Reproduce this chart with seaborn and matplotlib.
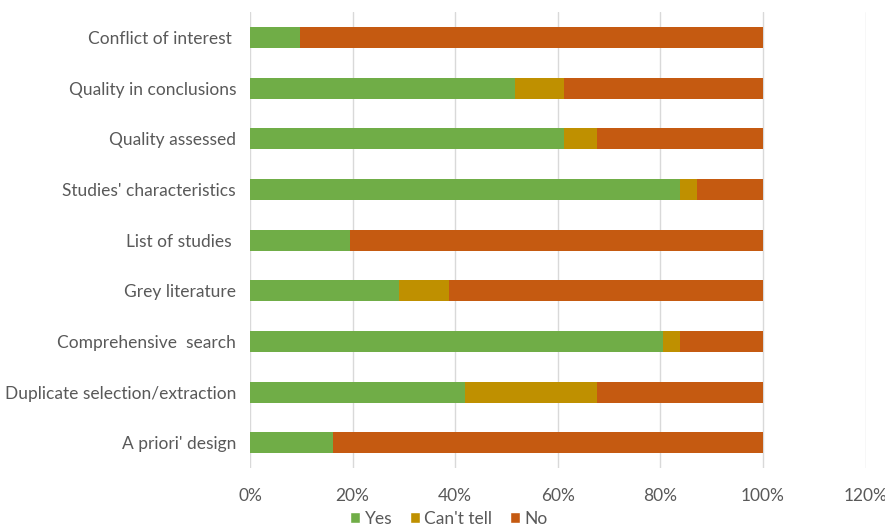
## Stacked horizontal bar chart of appraisal criteria (Yes / Can't tell / No)

import numpy as np
import matplotlib.pyplot as plt
import pandas as pd
import seaborn as sns
from matplotlib.patches import Patch
from matplotlib.ticker import PercentFormatter

# the data (percent of studies)
criteria = ['Conflict of interest ', 'Quality in conclusions', 'Quality assessed',
            "Studies' characteristics", 'List of studies ', 'Grey literature',
            'Comprehensive  search', 'Duplicate selection/extraction', "A priori' design"]
yes_pct = [9.7, 51.6, 61.3, 83.9, 19.4, 29.0, 80.6, 41.9, 16.1]
cant_tell_pct = [0.0, 9.7, 6.4, 3.2, 0.0, 9.7, 3.3, 25.8, 0.0]
no_pct = [90.3, 38.7, 32.3, 12.9, 80.6, 61.3, 16.1, 32.3, 83.9]

series_names = ['Yes', "Can't tell", 'No']
colors = {'Yes': '#70AD47', "Can't tell": '#BF9000', 'No': '#C55A11'}

df = pd.DataFrame({'criterion': criteria, 'Yes': yes_pct,
                   "Can't tell": cant_tell_pct, 'No': no_pct})
# cumulative ends, so each layer can be drawn from zero
df['cum_yes'] = df['Yes'] / 100
df['cum_cant'] = (df['Yes'] + df["Can't tell"]) / 100
df['cum_no'] = (df['Yes'] + df["Can't tell"] + df['No']) / 100

sns.set_style('white')
plt.rcParams['font.family'] = ['Lato', 'DejaVu Sans']

fig, ax = plt.subplots(figsize=(8.85, 5.29), dpi=100)
fig.subplots_adjust(left=0.2825, right=0.978, top=0.977, bottom=0.115)

# draw from the longest layer to the shortest
for col, name in [('cum_no', 'No'), ('cum_cant', "Can't tell"), ('cum_yes', 'Yes')]:
    sns.barplot(data=df, x=col, y='criterion', order=criteria, color=colors[name],
                width=0.41, saturation=1, ax=ax, orient='h', linewidth=0)

ax.set_xlim(0, 1.2)
ax.set_ylim(8.5, -0.5)
ax.set_xticks(np.arange(0, 1.21, 0.2))
ax.xaxis.set_major_formatter(PercentFormatter(1.0, decimals=0))
ax.set_xlabel('')
ax.set_ylabel('')
ax.grid(True, axis='x', color='#D9D9D9', linewidth=1)
ax.set_axisbelow(True)
for s in ax.spines.values():
    s.set_visible(False)
ax.tick_params(axis='both', length=0, labelsize=12.5, labelcolor='#595959')
ax.tick_params(axis='x', pad=14)
ax.tick_params(axis='y', pad=10)

handles = [Patch(facecolor=colors[n], label=n) for n in series_names]
fig.legend(handles=handles, loc='center', ncol=3, frameon=False,
           bbox_to_anchor=(0.507, 0.019), fontsize=12.5, handlelength=0.6,
           handleheight=0.6, handletextpad=0.25, columnspacing=1.0,
           labelcolor='#595959')

fig.savefig('out.png', dpi=100)
